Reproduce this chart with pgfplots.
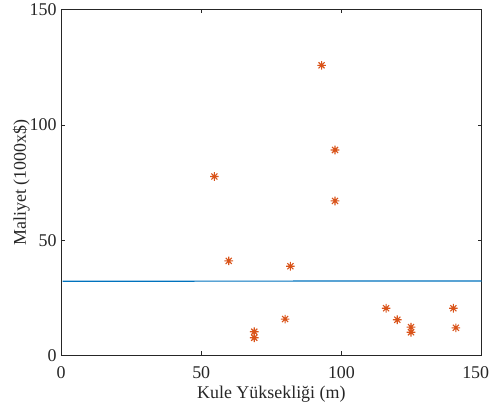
\documentclass[border=0pt]{standalone}
\usepackage{fontspec}
\setmainfont{Liberation Serif}
\usepackage{pgfplots}
\pgfplotsset{compat=1.18}
\definecolor{mblue}{RGB}{0,114,189}
\definecolor{morange}{RGB}{217,83,25}
\definecolor{axgray}{RGB}{38,38,38}
% MATLAB-style eight-armed asterisk
\pgfdeclareplotmark{mstar}{%
  \pgfpathmoveto{\pgfqpoint{0pt}{\pgfplotmarksize}}%
  \pgfpathlineto{\pgfqpoint{0pt}{-\pgfplotmarksize}}%
  \pgfpathmoveto{\pgfqpoint{\pgfplotmarksize}{0pt}}%
  \pgfpathlineto{\pgfqpoint{-\pgfplotmarksize}{0pt}}%
  \pgfpathmoveto{\pgfqpoint{.707\pgfplotmarksize}{.707\pgfplotmarksize}}%
  \pgfpathlineto{\pgfqpoint{-.707\pgfplotmarksize}{-.707\pgfplotmarksize}}%
  \pgfpathmoveto{\pgfqpoint{-.707\pgfplotmarksize}{.707\pgfplotmarksize}}%
  \pgfpathlineto{\pgfqpoint{.707\pgfplotmarksize}{-.707\pgfplotmarksize}}%
  \pgfusepathqstroke}

\begin{document}
\begin{tikzpicture}
\begin{axis}[
  scale only axis,
  width=420.7bp, height=346bp,
  xmin=0, xmax=150, ymin=0, ymax=150,
  xtick={0,50,100,150}, ytick={0,50,100,150},
  xticklabels={0,50,100,\hspace*{-12bp}150},
  tick align=inside,
  major tick length=4bp,
  axis line style={axgray, line width=0.8pt},
  tick style={axgray, line width=0.6pt},
  font=\fontsize{18}{20}\selectfont,
  ticklabel style={text=axgray},
  /pgf/number format/assume math mode=true,
  xlabel={Kule Yüksekliği (m)},
  ylabel={Maliyet (1000x\$)},
  label style={text=axgray},
  xlabel style={yshift=0bp},
  ylabel style={yshift=-7bp},
  xticklabel style={yshift=-8bp},
  yticklabel style={xshift=-1bp},
]
\addplot[mblue, line width=1.2pt] coordinates {(0.6,32.2) (150,32.3)};
\addplot[only marks, mark=mstar, mark size=4.3bp, morange, line width=1.1pt]
  coordinates {
    (92.9,125.8) (97.7,89.1) (54.7,77.6) (97.7,67.0) (59.8,41.0)
    (81.8,38.7) (115.9,20.5) (119.9,15.5) (124.8,12.3) (124.8,10.1)
    (139.9,20.5) (140.8,12.0) (79.9,15.8) (68.9,10.3) (68.9,7.7)
  };
\end{axis}
\pgfresetboundingbox
\path[use as bounding box] ([xshift=-61bp,yshift=-51.3bp]current axis.south west)
  rectangle ([xshift=10.3bp,yshift=9.5bp]current axis.north east);
\end{tikzpicture}
\end{document}
